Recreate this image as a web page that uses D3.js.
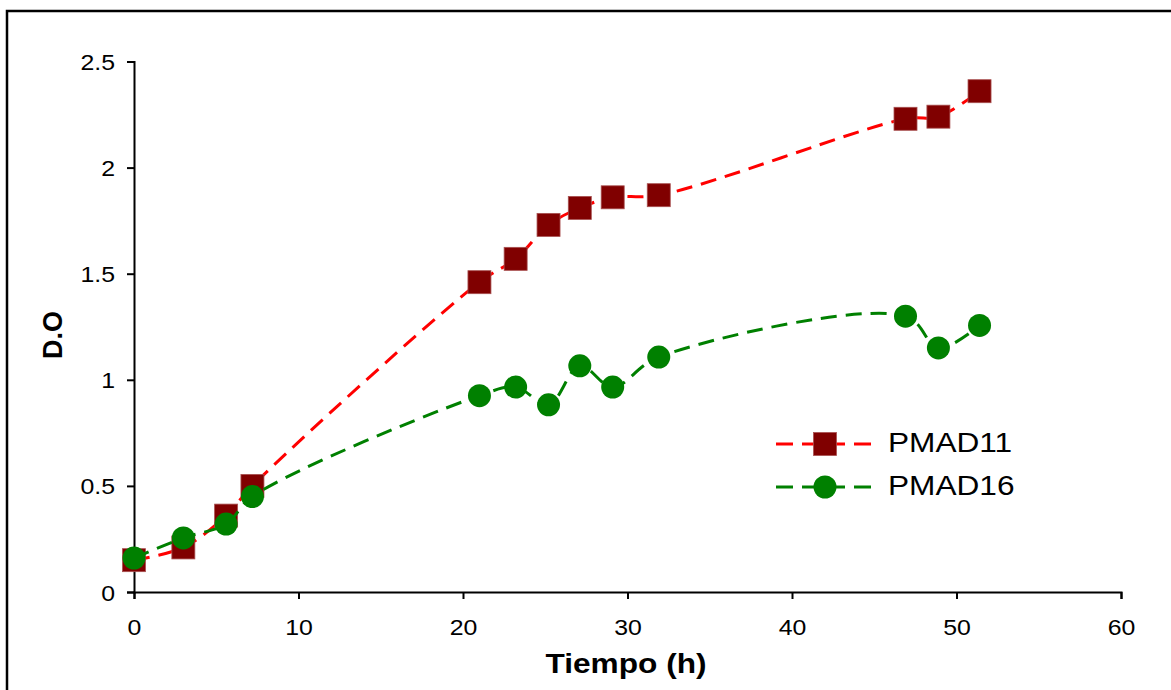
<!DOCTYPE html>
<html><head><meta charset="utf-8">
<script src="https://cdn.jsdelivr.net/npm/d3@7"></script>
<style>body{margin:0;background:#fff}svg{display:block}text{font-family:"Liberation Sans",Arial,sans-serif}</style>
</head><body>
<svg id="c" width="1171" height="690"></svg>
<script>
const hours = [0, 3, 5.6, 7.2, 21, 23.2, 25.2, 27.1, 29.1, 31.9, 46.9, 48.9, 51.4];
const pmad11 = [0.15, 0.21, 0.36, 0.50, 1.46, 1.57, 1.73, 1.81, 1.86, 1.87, 2.23, 2.24, 2.36];
const pmad16 = [0.16, 0.255, 0.32, 0.45, 0.925, 0.966, 0.882, 1.066, 0.966, 1.107, 1.30, 1.15, 1.256];
const xTicks = [0, 10, 20, 30, 40, 50, 60];
const yTicks = [0, 0.5, 1, 1.5, 2, 2.5];
const seriesNames = ["PMAD11", "PMAD16"];

const SX = 1.13;
const svg = d3.select("#c");
svg.append("rect").attr("x", 7).attr("y", 11).attr("width", 1200).attr("height", 720)
  .attr("fill", "#fff").attr("stroke", "#000").attr("stroke-width", 2.5);

const x = d3.scaleLinear().domain([0, 60]).range([134, 1121]);
const y = d3.scaleLinear().domain([0, 2.5]).range([592, 61.5]);

const yAxis = svg.append("g").attr("transform", `translate(${x(0)},0)`)
  .call(d3.axisLeft(y).tickValues(yTicks).tickSize(7).tickPadding(0).tickFormat(d3.format("")));
yAxis.selectAll("text").attr("x", null).attr("dy", null)
  .attr("transform", "translate(-19,8) scale(" + SX + ",1)")
  .attr("font-size", 22).attr("fill", "#000").attr("font-family", "Liberation Sans, Arial, sans-serif");
const xAxis = svg.append("g").attr("transform", `translate(0,${y(0)})`)
  .call(d3.axisBottom(x).tickValues(xTicks).tickSize(7).tickFormat(d3.format("")));
xAxis.selectAll("text").attr("y", null).attr("dy", null)
  .attr("transform", "translate(0,43) scale(" + SX + ",1)")
  .attr("font-size", 22).attr("fill", "#000").attr("font-family", "Liberation Sans, Arial, sans-serif");
svg.selectAll(".domain, .tick line").attr("stroke", "#000").attr("stroke-width", 2);

svg.append("text").attr("transform", `translate(626,673) scale(${SX},1)`).attr("text-anchor", "middle")
  .attr("font-size", 28).attr("font-weight", "bold").text("Tiempo (h)");
svg.append("text").attr("transform", "translate(62,335) rotate(-90)").attr("text-anchor", "middle")
  .attr("font-size", 27).attr("font-weight", "bold").text("D.O");

const curve = d3.curveCatmullRom.alpha(0.5);
const line = vals => d3.line().x((d, i) => x(hours[i])).y(d => y(d)).curve(curve)(vals);

// PMAD11
svg.append("path").attr("d", line(pmad11)).attr("fill", "none").attr("stroke", "#ff0000")
  .attr("stroke-width", 3).attr("stroke-dasharray", "16,9");
svg.append("g").selectAll("rect").data(pmad11).join("rect")
  .attr("x", (d, i) => x(hours[i]) - 11.5).attr("y", d => y(d) - 11.5)
  .attr("width", 23).attr("height", 23).attr("fill", "#800000")
  .attr("stroke", "#a85050").attr("stroke-width", 0.8);
// PMAD16
svg.append("path").attr("d", line(pmad16)).attr("fill", "none").attr("stroke", "#008000")
  .attr("stroke-width", 3).attr("stroke-dasharray", "16,9");
svg.append("g").selectAll("circle").data(pmad16).join("circle")
  .attr("cx", (d, i) => x(hours[i])).attr("cy", d => y(d)).attr("r", 11.5).attr("fill", "#008000");

// Legend
const leg = svg.append("g");
[0, 1].forEach(k => {
  const ly = k === 0 ? 444 : 487;
  leg.append("line").attr("x1", 776).attr("x2", 871).attr("y1", ly).attr("y2", ly)
    .attr("stroke", k === 0 ? "#ff0000" : "#008000").attr("stroke-width", 3)
    .attr("stroke-dasharray", "17,9,43,9,17");
  if (k === 0) {
    leg.append("rect").attr("x", 825 - 11.5).attr("y", ly - 11.5).attr("width", 23).attr("height", 23)
      .attr("fill", "#800000").attr("stroke", "#a85050").attr("stroke-width", 0.8);
  } else {
    leg.append("circle").attr("cx", 825).attr("cy", ly).attr("r", 11.5).attr("fill", "#008000");
  }
  leg.append("text").attr("transform", `translate(888,${ly + 8}) scale(${SX},1)`)
    .attr("font-size", 28).text(seriesNames[k]);
});
</script>
</body></html>
